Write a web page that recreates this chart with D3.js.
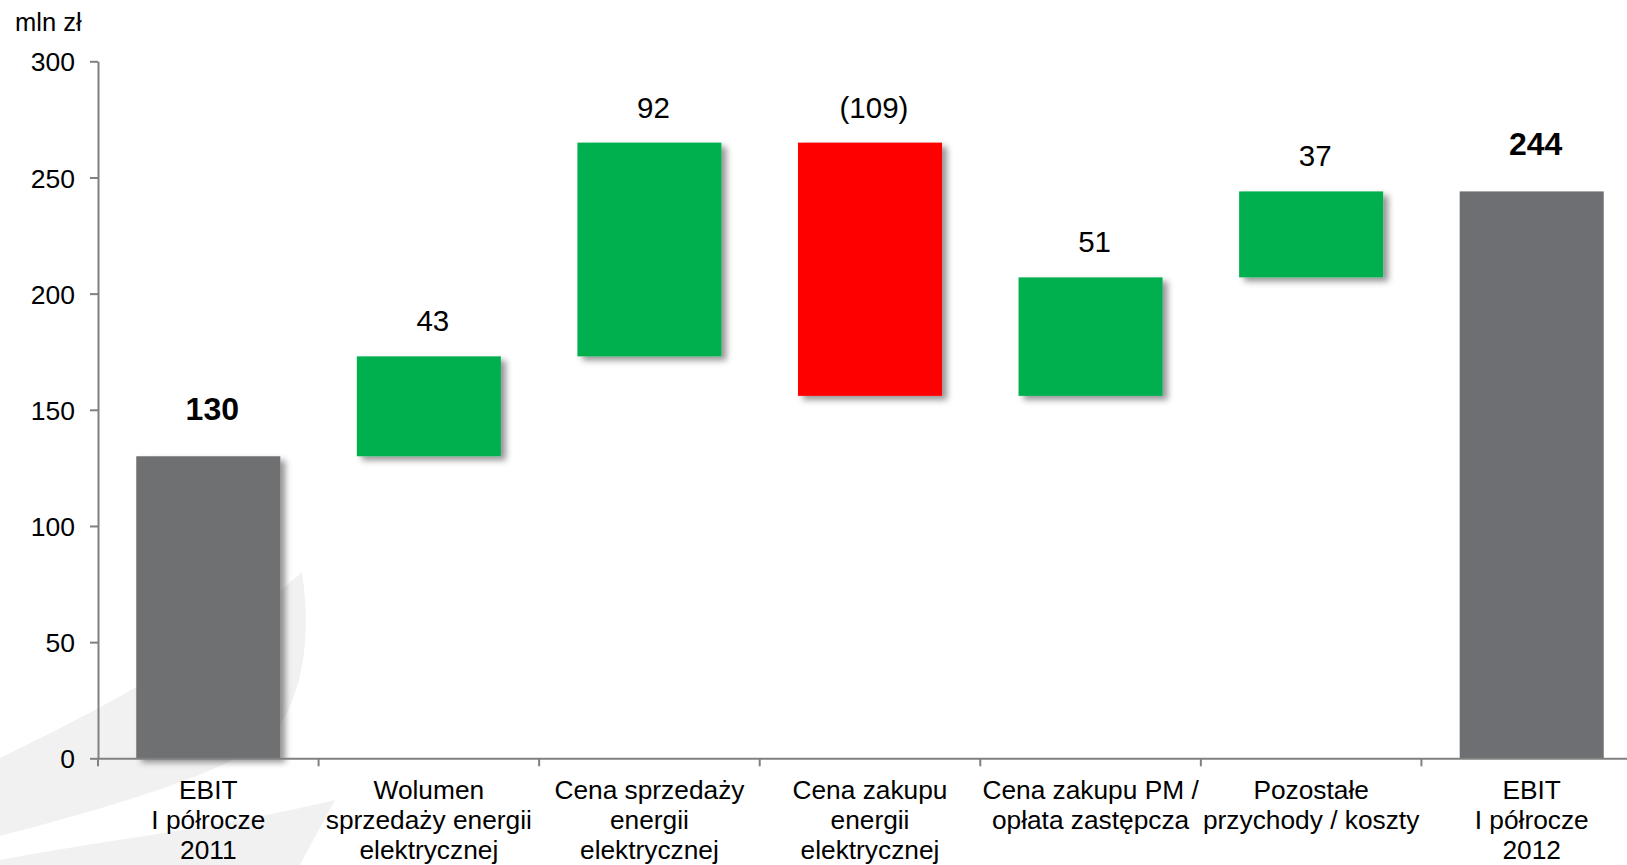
<!DOCTYPE html>
<html>
<head>
<meta charset="utf-8">
<script src="https://cdn.jsdelivr.net/npm/d3@7"></script>
<style>
  html, body { margin: 0; padding: 0; background: #fff; }
  svg { display: block; font-family: "Liberation Sans", Arial, sans-serif; }
</style>
</head>
<body>
<svg id="chart" width="1627" height="865"></svg>
<script>
// EBIT bridge, H1 2011 -> H1 2012 (mln zł)
const categories = [
  ["EBIT", "I półrocze", "2011"],
  ["Wolumen", "sprzedaży energii", "elektrycznej"],
  ["Cena sprzedaży", "energii", "elektrycznej"],
  ["Cena zakupu", "energii", "elektrycznej"],
  ["Cena zakupu PM /", "opłata zastępcza"],
  ["Pozostałe", "przychody / koszty"],
  ["EBIT", "I półrocze", "2012"]
];
const startValue = 130;
const changes = [43, 92, -109, 51, 37];
const endValue = 244;
const valueLabels = ["130", "43", "92", "(109)", "51", "37", "244"];
const yTicks = [0, 50, 100, 150, 200, 250, 300];
const unitLabel = "mln zł";

const colors = { total: "#6e6f72", up: "#00b050", down: "#ff0000" };

// Build the waterfall steps from the start value and the changes
const steps = [];
steps.push({ kind: "total", lo: 0, hi: startValue });
let running = startValue;
changes.forEach(d => {
  const next = running + d;
  steps.push({ kind: d >= 0 ? "up" : "down", lo: Math.min(running, next), hi: Math.max(running, next) });
  running = next;
});
steps.push({ kind: "total", lo: 0, hi: endValue, noShadow: true });
steps.forEach((s, i) => { s.cat = i; s.label = valueLabels[i]; s.lines = categories[i]; });

const svg = d3.select("#chart");
const left = 98, y0px = 758.3, yTopPx = 61.3;

const x = d3.scaleBand()
  .domain(d3.range(categories.length))
  .range([left, left + 7 * 220.57])
  .paddingInner(0.347)
  .paddingOuter(0.1735);

const y = d3.scaleLinear().domain([0, 300]).range([y0px, yTopPx]);

// Faint background swoosh in the lower-left corner
const bg = svg.append("g").attr("fill", "#f1f1f1");
bg.append("path").attr("d",
  "M0,758 C110,705 220,645 302,572 C312,640 302,700 272,735 C232,770 130,802 0,836 Z");
bg.append("path").attr("d",
  "M0,860 C90,842 210,830 335,800 C322,825 310,845 300,865 L0,865 Z");

// Drop shadow used by the bars
const defs = svg.append("defs");
const f = defs.append("filter").attr("id", "shadow")
  .attr("x", "-20%").attr("y", "-20%").attr("width", "140%").attr("height", "140%");
f.append("feDropShadow")
  .attr("dx", 5).attr("dy", 4).attr("stdDeviation", 3)
  .attr("flood-color", "#000").attr("flood-opacity", 0.42);

// Bars
svg.append("g").selectAll("rect").data(steps).join("rect")
  .attr("x", d => x(d.cat))
  .attr("width", x.bandwidth())
  .attr("y", d => y(d.hi))
  .attr("height", d => y(d.lo) - y(d.hi))
  .attr("fill", d => colors[d.kind])
  .attr("filter", d => d.noShadow ? null : "url(#shadow)");

// Y axis
const yAxis = svg.append("g")
  .attr("transform", `translate(${left},0)`)
  .call(d3.axisLeft(y).tickValues(yTicks).tickSize(8).tickSizeOuter(0).tickPadding(15));
yAxis.select(".domain").attr("stroke", "#808080").attr("stroke-width", 2);
yAxis.selectAll(".tick line").attr("stroke", "#808080").attr("stroke-width", 2);
yAxis.selectAll(".tick text")
  .attr("fill", "#000").style("font-size", "26.5px").attr("dy", "0.36em");

// X axis: baseline with ticks at the category boundaries
const xAxis = svg.append("g")
  .attr("transform", `translate(0,${y(0)})`)
  .call(d3.axisBottom(x).tickSize(0).tickSizeOuter(0).tickFormat(""));
xAxis.select(".domain").attr("stroke", "#808080").attr("stroke-width", 2);
xAxis.selectAll(".tick").remove();
const boundaries = d3.range(categories.length + 1).map(i => left + i * x.step());
xAxis.selectAll("line.sep").data(boundaries).join("line")
  .attr("class", "sep")
  .attr("x1", d => d).attr("x2", d => d)
  .attr("y1", 0).attr("y2", 8)
  .attr("stroke", "#808080").attr("stroke-width", 2);

// Category labels
const catG = svg.append("g").attr("text-anchor", "middle").style("font-size", "26.3px").attr("fill", "#000");
steps.forEach(s => {
  const cx = x(s.cat) + x.bandwidth() / 2;
  const t = catG.append("text").attr("x", cx).attr("y", 799);
  s.lines.forEach((ln, j) => {
    t.append("tspan").attr("x", cx).attr("dy", j === 0 ? 0 : 30).text(ln);
  });
});

// Value labels above each bar
svg.append("g").attr("text-anchor", "middle").selectAll("text").data(steps).join("text")
  .attr("x", d => x(d.cat) + x.bandwidth() / 2 + 4)
  .attr("y", d => y(d.hi) - (d.kind === "total" ? 36 : 25))
  .style("font-size", d => d.kind === "total" ? "32px" : "29.5px")
  .style("font-weight", d => d.kind === "total" ? "bold" : "normal")
  .attr("fill", "#000")
  .text(d => d.label);

// Unit label
svg.append("text")
  .attr("x", 15).attr("y", 31)
  .style("font-size", "25.5px")
  .attr("fill", "#000")
  .text(unitLabel);
</script>
</body>
</html>
